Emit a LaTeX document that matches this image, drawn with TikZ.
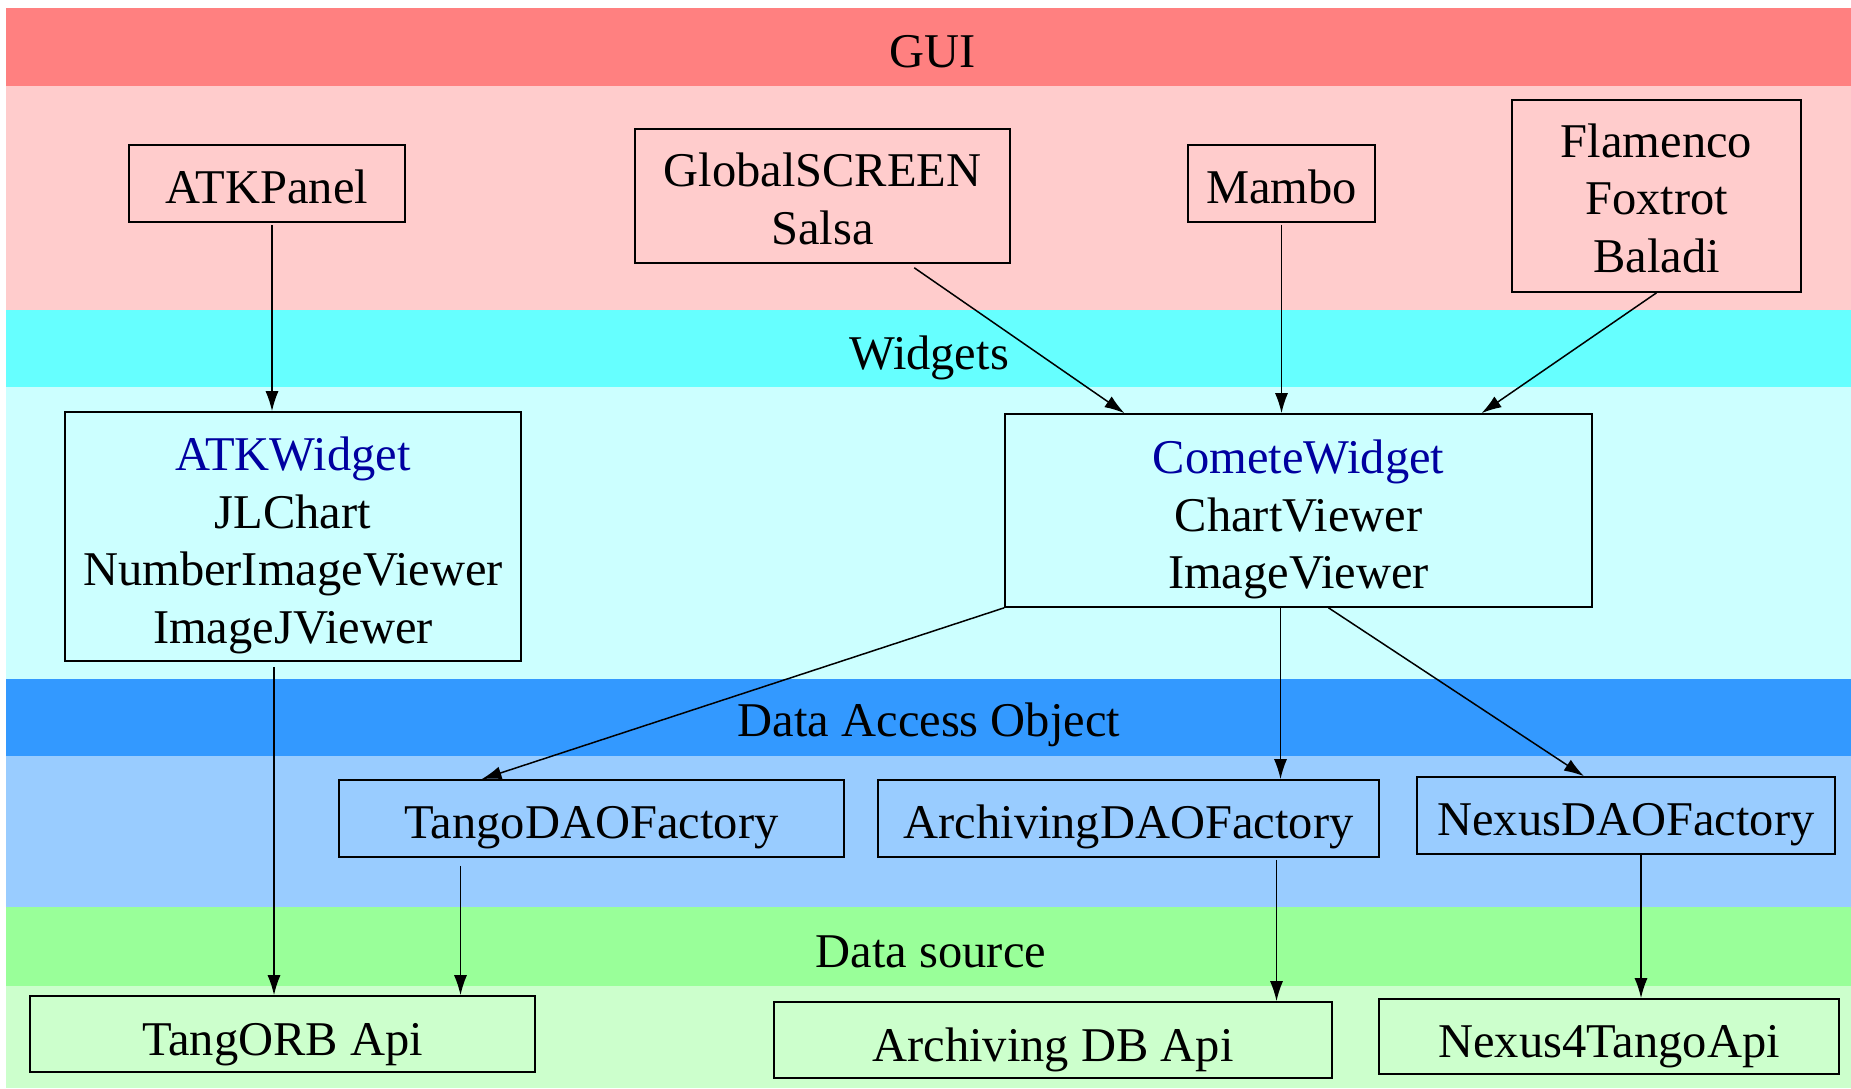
\documentclass[tikz,border=0pt]{standalone}
\usepackage{fontspec}
\setmainfont{Liberation Serif}
\usetikzlibrary{arrows.meta, positioning}
\definecolor{guidark}{RGB}{255,128,128}
\definecolor{guilight}{RGB}{255,204,204}
\definecolor{widdark}{RGB}{102,255,255}
\definecolor{widlight}{RGB}{204,255,255}
\definecolor{daodark}{RGB}{51,153,255}
\definecolor{daolight}{RGB}{153,204,255}
\definecolor{srcdark}{RGB}{153,255,153}
\definecolor{srclight}{RGB}{204,255,204}
\definecolor{wtitle}{RGB}{0,0,160}
\tikzset {
    x=1pt, y=-1pt,
    every node/.style={font=\fontsize{48.5}{57.5}\selectfont},
    box/.style={draw, line width=1.6pt, align=center, inner sep=0pt, text depth=0pt, text height=#1},
    box/.default=40pt,
    layer/.style={anchor=base},
    arr/.style={-{Latex[length=20pt,width=13pt]}, line width=1.5pt}
}
\begin{document}
\begin{tikzpicture}
    \useasboundingbox (0,0) rectangle (1851,1088);
    % layers
    \fill[guidark] (6,8) rectangle (1851,86);
    \fill[guilight] (6,86) rectangle (1851,310);
    \fill[widdark] (6,310) rectangle (1851,387);
    \fill[widlight] (6,387) rectangle (1851,679);
    \fill[daodark] (6,679) rectangle (1851,756);
    \fill[daolight] (6,756) rectangle (1851,907);
    \fill[srcdark] (6,907) rectangle (1851,986);
    \fill[srclight] (6,986) rectangle (1851,1088);

    \node[layer] (gui) at (933,67) {GUI};
    \node[layer] (wid) at (929,369) {Widgets};
    \node[layer] (dao) at (929,736) {Data Access Object};
    \node[layer] (src) at (931,967) {Data source};

    % GUI
    \node[box, minimum width=276pt, minimum height=77pt] (atkpanel) at (267,183.5) {ATKPanel};
    \node[box=96pt, minimum width=375pt, minimum height=134pt] (gscreen) at (822.5,196) {GlobalSCREEN\\Salsa};
    \node[box, minimum width=187pt, minimum height=77pt] (mambo) at (1281.5,183.5) {Mambo};
    \node[box=152pt, minimum width=289pt, minimum height=192pt] (flamenco) at (1656.5,196) {Flamenco\\Foxtrot\\Baladi};

    % widgets
    \node[box=213pt, minimum width=456pt, minimum height=249pt] (atkwidget) at (293,536.5)
        {\textcolor{wtitle}{ATKWidget}\\JLChart\\NumberImageViewer\\ImageJViewer};
    \node[box=156pt, minimum width=587pt, minimum height=193pt] (comete) at (1298.5,510.5)
        {\textcolor{wtitle}{CometeWidget}\\ChartViewer\\ImageViewer};

    % DAO
    \node[box, minimum width=505pt, minimum height=77pt] (tangodao) at (591.5,818.5) {TangoDAOFactory};
    \node[box, minimum width=501pt, minimum height=77pt] (archdao) at (1128.5,818.5) {ArchivingDAOFactory};
    \node[box, minimum width=418pt, minimum height=77pt] (nexusdao) at (1626,815.5) {NexusDAOFactory};

    % sources
    \node[box=42pt, minimum width=505pt, minimum height=76pt] (tangorb) at (282.5,1034) {TangORB Api};
    \node[box=42pt, minimum width=558pt, minimum height=76pt] (archdb) at (1053,1040) {Archiving DB Api};
    \node[box=42pt, minimum width=460pt, minimum height=75pt] (nexusapi) at (1609,1036.5) {Nexus4TangoApi};

    \draw[arr, shorten <=2pt] ([xshift=5pt]atkpanel.south) -- ([xshift=5pt]atkpanel.south |- atkwidget.north);
    \draw[arr, shorten <=7pt] ([xshift=86pt]gscreen.south) -- ([xshift=-174pt]comete.north);
    \draw[arr, shorten <=2pt] (mambo.south) -- (mambo.south |- comete.north);
    \draw[arr] (flamenco.south) -- ([xshift=183pt]comete.north);
    \draw[arr, shorten <=5pt] ([xshift=-19pt]atkwidget.south) -- ([xshift=-19pt]atkwidget.south |- tangorb.north);
    \draw[arr, shorten <=8pt] ([xshift=-131pt]tangodao.south) -- ([xshift=-131pt]tangodao.south |- tangorb.north);
    \draw[arr] (comete.south west) -- ([xshift=-110pt]tangodao.north);
    \draw[arr] ([xshift=-18pt]comete.south) -- ([xshift=-18pt]comete.south |- archdao.north);
    \draw[arr] ([xshift=30pt]comete.south) -- ([xshift=-42pt]nexusdao.north);
    \draw[arr, shorten <=2pt] ([xshift=148pt]archdao.south) -- ([xshift=148pt]archdao.south |- archdb.north);
    \draw[arr] ([xshift=15pt]nexusdao.south) -- ([xshift=15pt]nexusdao.south |- nexusapi.north);
\end{tikzpicture}
\end{document}
